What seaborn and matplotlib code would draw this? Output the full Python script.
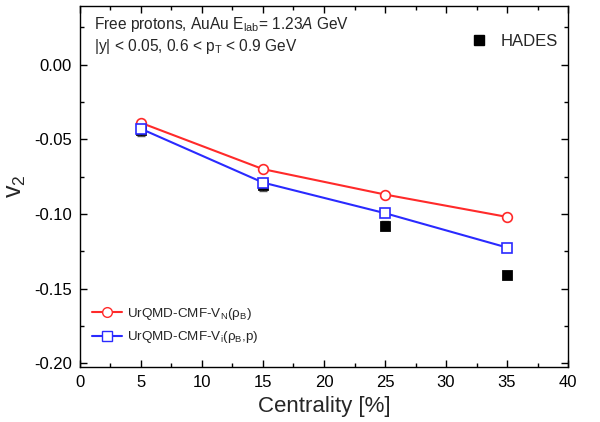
import matplotlib
matplotlib.use("Agg")
import matplotlib.pyplot as plt
import seaborn as sns
import pandas as pd
from matplotlib.ticker import MultipleLocator
from matplotlib.lines import Line2D

centrality = [5, 15, 25, 35]
v2_vn = [-0.039, -0.070, -0.087, -0.102]
v2_vi = [-0.043, -0.079, -0.0995, -0.1225]
v2_hades = [-0.044, -0.0805, -0.108, -0.141]
err_hades = [0.004, 0.004, 0.003, 0.0015]

label_vn = r"UrQMD-CMF-V$_\mathregular{N}$($\mathregular{\rho_B}$)"
label_vi = r"UrQMD-CMF-V$_\mathregular{i}$($\mathregular{\rho_B}$,p)"

sns.set_theme(style="ticks")
plt.rcParams["font.family"] = ["Liberation Sans", "DejaVu Sans"]
plt.rcParams["mathtext.fontset"] = "custom"
plt.rcParams["mathtext.rm"] = "Liberation Sans"
plt.rcParams["mathtext.it"] = "Liberation Sans:italic"

df = pd.DataFrame({
    "c": centrality * 2,
    "v2": v2_vn + v2_vi,
    "model": [label_vn] * 4 + [label_vi] * 4,
})
dh = pd.DataFrame({"c": centrality, "v2": v2_hades, "err": err_hades})

fig = plt.figure(figsize=(6.0, 4.22), dpi=100)
ax = fig.add_axes([0.1333, 0.130, 0.8134, 0.856])

ax.errorbar(dh["c"], dh["v2"], yerr=dh["err"], fmt="none", ecolor="#555555",
            elinewidth=1.0, capsize=3, zorder=2)
sns.scatterplot(data=dh, x="c", y="v2", marker="s", color="black", s=50,
                edgecolor="black", ax=ax, zorder=3, legend=False)
sns.lineplot(data=df, x="c", y="v2", hue="model", style="model",
             palette={label_vn: "#ff2a2a", label_vi: "#2a2aff"},
             markers={label_vn: "o", label_vi: "s"}, dashes=False,
             markersize=7, markerfacecolor="white", markeredgewidth=1.2,
             linewidth=1.5, ax=ax, zorder=4, legend=False)
for ln, c in zip(ax.get_lines()[-2:], ["#ff2a2a", "#2a2aff"]):
    ln.set_markeredgecolor(c)

ax.set_xlim(0, 40)
ax.set_ylim(-0.2026, 0.0393)
ax.xaxis.set_major_locator(MultipleLocator(5))
ax.xaxis.set_minor_locator(MultipleLocator(2.5))
ax.yaxis.set_major_locator(MultipleLocator(0.05))
ax.yaxis.set_minor_locator(MultipleLocator(0.025))
ax.yaxis.set_major_formatter(matplotlib.ticker.FormatStrFormatter("%.2f"))
ax.tick_params(which="both", direction="in", top=True, right=True, width=1,
               labelsize=12, colors="black")
ax.tick_params(which="major", length=5, pad=6)
ax.tick_params(which="minor", length=3)
for s in ax.spines.values():
    s.set_linewidth(1.0)
    s.set_color("black")

ax.set_xlabel("Centrality [%]", fontsize=16, labelpad=4)
ax.set_ylabel(r"v$_\mathregular{2}$", fontsize=18, labelpad=4)

ax.text(0.028, 0.975,
        "Free protons, AuAu E$_\\mathregular{lab}$= 1.23$\\mathit{A}$ GeV\n"
        "|y| < 0.05, 0.6 < p$_\\mathregular{T}$ < 0.9 GeV",
        transform=ax.transAxes, ha="left", va="top", fontsize=11.2,
        linespacing=1.2)

h_hades = Line2D([], [], marker="s", color="black", linestyle="none", markersize=7)
leg1 = ax.legend([h_hades], ["HADES"], loc="upper right",
                 bbox_to_anchor=(1.01, 0.965), frameon=False, fontsize=12,
                 handlelength=1.0, handletextpad=0.8)
ax.add_artist(leg1)

h_vn = Line2D([], [], color="#ff2a2a", marker="o", markerfacecolor="white",
              markeredgecolor="#ff2a2a", markersize=7, linewidth=1.5)
h_vi = Line2D([], [], color="#2a2aff", marker="s", markerfacecolor="white",
              markeredgecolor="#2a2aff", markersize=7, linewidth=1.5)
ax.legend([h_vn, h_vi], [label_vn, label_vi], loc="lower left",
          bbox_to_anchor=(0.0, 0.027), frameon=False, fontsize=9.7,
          handlelength=2.2, handletextpad=0.4, labelspacing=0.55)

fig.savefig("out.png", dpi=100)
